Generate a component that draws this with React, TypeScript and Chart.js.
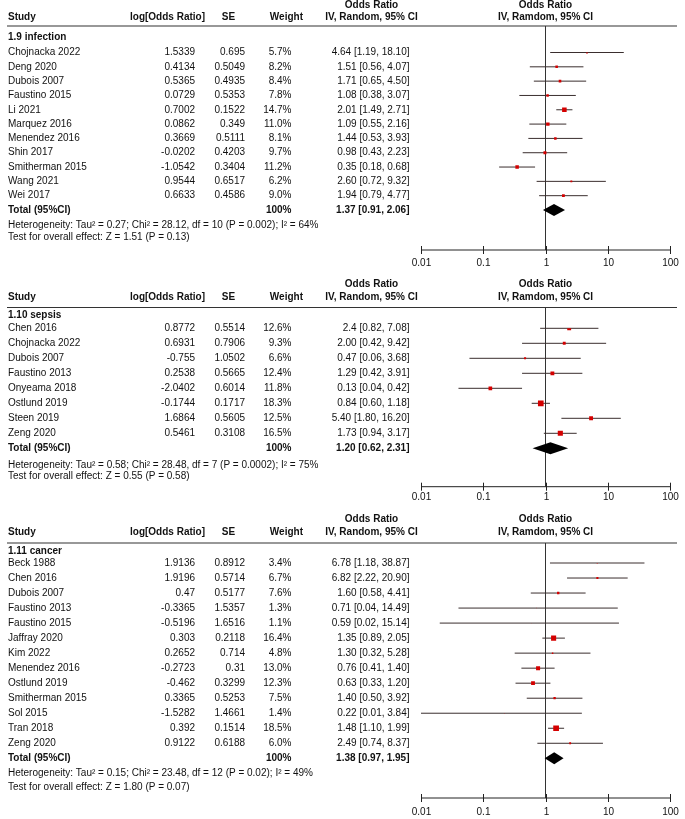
import React, { useEffect, useRef } from 'react';
import { Chart, registerables } from 'chart.js';

Chart.register(...registerables);

// ---------- DATA ----------
// 1.9 infection
const infStudies = ['Chojnacka 2022', 'Deng 2020', 'Dubois 2007', 'Faustino 2015', 'Li 2021', 'Marquez 2016', 'Menendez 2016', 'Shin 2017', 'Smitherman 2015', 'Wang 2021', 'Wei 2017'];
const infLogOR = ['1.5339', '0.4134', '0.5365', '0.0729', '0.7002', '0.0862', '0.3669', '-0.0202', '-1.0542', '0.9544', '0.6633'];
const infSE = ['0.695', '0.5049', '0.4935', '0.5353', '0.1522', '0.349', '0.5111', '0.4203', '0.3404', '0.6517', '0.4586'];
const infWeight = [5.7, 8.2, 8.4, 7.8, 14.7, 11.0, 8.1, 9.7, 11.2, 6.2, 9.0];
const infOR = ['4.64', '1.51', '1.71', '1.08', '2.01', '1.09', '1.44', '0.98', '0.35', '2.60', '1.94'];
const infLo = ['1.19', '0.56', '0.65', '0.38', '1.49', '0.55', '0.53', '0.43', '0.18', '0.72', '0.79'];
const infHi = ['18.10', '4.07', '4.50', '3.07', '2.71', '2.16', '3.93', '2.23', '0.68', '9.32', '4.77'];
const infTotal = ['1.37', '0.91', '2.06'];
const infHet = 'Heterogeneity: Tau² = 0.27; Chi² = 28.12, df = 10 (P = 0.002); I² = 64%';
const infTest = 'Test for overall effect: Z = 1.51 (P = 0.13)';

// 1.10 sepsis
const sepStudies = ['Chen 2016', 'Chojnacka 2022', 'Dubois 2007', 'Faustino 2013', 'Onyeama 2018', 'Ostlund 2019', 'Steen 2019', 'Zeng 2020'];
const sepLogOR = ['0.8772', '0.6931', '-0.755', '0.2538', '-2.0402', '-0.1744', '1.6864', '0.5461'];
const sepSE = ['0.5514', '0.7906', '1.0502', '0.5665', '0.6014', '0.1717', '0.5605', '0.3108'];
const sepWeight = [12.6, 9.3, 6.6, 12.4, 11.8, 18.3, 12.5, 16.5];
const sepOR = ['2.4', '2.00', '0.47', '1.29', '0.13', '0.84', '5.40', '1.73'];
const sepLo = ['0.82', '0.42', '0.06', '0.42', '0.04', '0.60', '1.80', '0.94'];
const sepHi = ['7.08', '9.42', '3.68', '3.91', '0.42', '1.18', '16.20', '3.17'];
const sepTotal = ['1.20', '0.62', '2.31'];
const sepHet = 'Heterogeneity: Tau² = 0.58; Chi² = 28.48, df = 7 (P = 0.0002); I² = 75%';
const sepTest = 'Test for overall effect: Z = 0.55 (P = 0.58)';

// 1.11 cancer
const canStudies = ['Beck 1988', 'Chen 2016', 'Dubois 2007', 'Faustino 2013', 'Faustino 2015', 'Jaffray 2020', 'Kim 2022', 'Menendez 2016', 'Ostlund 2019', 'Smitherman 2015', 'Sol 2015', 'Tran 2018', 'Zeng 2020'];
const canLogOR = ['1.9136', '1.9196', '0.47', '-0.3365', '-0.5196', '0.303', '0.2652', '-0.2723', '-0.462', '0.3365', '-1.5282', '0.392', '0.9122'];
const canSE = ['0.8912', '0.5714', '0.5177', '1.5357', '1.6516', '0.2118', '0.714', '0.31', '0.3299', '0.5253', '1.4661', '0.1514', '0.6188'];
const canWeight = [3.4, 6.7, 7.6, 1.3, 1.1, 16.4, 4.8, 13.0, 12.3, 7.5, 1.4, 18.5, 6.0];
const canOR = ['6.78', '6.82', '1.60', '0.71', '0.59', '1.35', '1.30', '0.76', '0.63', '1.40', '0.22', '1.48', '2.49'];
const canLo = ['1.18', '2.22', '0.58', '0.04', '0.02', '0.89', '0.32', '0.41', '0.33', '0.50', '0.01', '1.10', '0.74'];
const canHi = ['38.87', '20.90', '4.41', '14.49', '15.14', '2.05', '5.28', '1.40', '1.20', '3.92', '3.84', '1.99', '8.37'];
const canTotal = ['1.38', '0.97', '1.95'];
const canHet = 'Heterogeneity: Tau² = 0.15; Chi² = 23.48, df = 12 (P = 0.02); I² = 49%';
const canTest = 'Test for overall effect: Z = 1.80 (P = 0.07)';

const axisTicks = [0.01, 0.1, 1, 10, 100];
const axisTickLabels = ['0.01', '0.1', '1', '10', '100'];

// ---------- LAYOUT ----------
const FONT = '"Liberation Sans", Arial, Helvetica, sans-serif';
const W = 685;
const PLOT_L = 421;
const PLOT_R = 670;

type Geo = { height: number; hdr1: number; hdr2: number; rule: number; label: number; first: number; total: number; het: number; test: number; axis: number; axisLbl: number };

type PanelDef = {
  title: string; studies: string[]; logOR: string[]; se: string[]; weight: number[];
  or: string[]; lo: string[]; hi: string[]; total: string[]; het: string; test: string; geo: Geo;
};

const panels: PanelDef[] = [
  { title: '1.9 infection', studies: infStudies, logOR: infLogOR, se: infSE, weight: infWeight, or: infOR, lo: infLo, hi: infHi, total: infTotal, het: infHet, test: infTest,
    geo: { height: 272, hdr1: 5, hdr2: 17, rule: 26, label: 37, first: 52.5, total: 210, het: 225, test: 237.3, axis: 250, axisLbl: 263 } },
  { title: '1.10 sepsis', studies: sepStudies, logOR: sepLogOR, se: sepSE, weight: sepWeight, or: sepOR, lo: sepLo, hi: sepHi, total: sepTotal, het: sepHet, test: sepTest,
    geo: { height: 234, hdr1: 12.7, hdr2: 25, rule: 35.5, label: 43, first: 56.3, total: 176.3, het: 193, test: 204.7, axis: 214.7, axisLbl: 225 } },
  { title: '1.11 cancer', studies: canStudies, logOR: canLogOR, se: canSE, weight: canWeight, or: canOR, lo: canLo, hi: canHi, total: canTotal, het: canHet, test: canTest,
    geo: { height: 313, hdr1: 13, hdr2: 26, rule: 37, label: 45, first: 57, total: 252.3, het: 267, test: 281, axis: 292, axisLbl: 306 } },
];

function makePlugin(p: PanelDef) {
  const n = p.studies.length;
  const g = p.geo;
  return {
    id: 'forest',
    beforeDatasetsDraw(chart: any) {
      const ctx = chart.ctx;
      const xs = chart.scales.x;
      const ys = chart.scales.y;
      ctx.save();
      // header rule
      ctx.strokeStyle = '#333';
      ctx.lineWidth = 1.2;
      ctx.beginPath();
      ctx.moveTo(7, g.rule);
      ctx.lineTo(677, g.rule);
      ctx.stroke();
      // line of no effect
      const x1 = xs.getPixelForValue(1);
      ctx.strokeStyle = '#333';
      ctx.lineWidth = 1;
      ctx.beginPath();
      ctx.moveTo(x1, g.rule);
      ctx.lineTo(x1, g.axis);
      ctx.stroke();
      // CI lines
      ctx.strokeStyle = '#3a2e2e';
      ctx.lineWidth = 1;
      for (let i = 0; i < n; i++) {
        const y = ys.getPixelForValue(i + 1);
        ctx.beginPath();
        ctx.moveTo(xs.getPixelForValue(parseFloat(p.lo[i])), y);
        ctx.lineTo(xs.getPixelForValue(parseFloat(p.hi[i])), y);
        ctx.stroke();
      }
      // diamond
      const yt = ys.getPixelForValue(n + 1);
      const xl = xs.getPixelForValue(parseFloat(p.total[1]));
      const xm = xs.getPixelForValue(parseFloat(p.total[0]));
      const xr = xs.getPixelForValue(parseFloat(p.total[2]));
      ctx.fillStyle = '#000';
      ctx.beginPath();
      ctx.moveTo(xl, yt);
      ctx.lineTo(xm, yt - 6);
      ctx.lineTo(xr, yt);
      ctx.lineTo(xm, yt + 6);
      ctx.closePath();
      ctx.fill();
      // axis
      ctx.strokeStyle = '#222';
      ctx.lineWidth = 1;
      ctx.beginPath();
      ctx.moveTo(xs.getPixelForValue(axisTicks[0]), g.axis);
      ctx.lineTo(xs.getPixelForValue(axisTicks[axisTicks.length - 1]), g.axis);
      ctx.stroke();
      ctx.fillStyle = '#111';
      ctx.font = `10px ${FONT}`;
      ctx.textAlign = 'center';
      ctx.textBaseline = 'middle';
      axisTicks.forEach((t, k) => {
        const px = Math.round(xs.getPixelForValue(t)) + 0.5;
        ctx.beginPath();
        ctx.moveTo(px, g.axis - 4);
        ctx.lineTo(px, g.axis + 4);
        ctx.stroke();
        ctx.fillText(axisTickLabels[k], px, g.axisLbl);
      });
      ctx.restore();
    },
    afterDraw(chart: any) {
      const ctx = chart.ctx;
      const ys = chart.scales.y;
      ctx.save();
      ctx.fillStyle = '#111';
      ctx.textBaseline = 'middle';
      const bold = `bold 10px ${FONT}`;
      const reg = `10px ${FONT}`;
      const txt = (s: string, x: number, y: number, align: CanvasTextAlign, font: string) => {
        ctx.font = font;
        ctx.textAlign = align;
        ctx.fillText(s, x, y);
      };
      // headers
      txt('Study', 8, g.hdr2, 'left', bold);
      txt('log[Odds Ratio]', 205, g.hdr2, 'right', bold);
      txt('SE', 228.5, g.hdr2, 'center', bold);
      txt('Weight', 303, g.hdr2, 'right', bold);
      txt('Odds Ratio', 371.5, g.hdr1, 'center', bold);
      txt('IV, Random, 95% CI', 371.5, g.hdr2, 'center', bold);
      txt('Odds Ratio', 545.5, g.hdr1, 'center', bold);
      txt('IV, Ramdom, 95% CI', 545.5, g.hdr2, 'center', bold);
      // subgroup
      txt(p.title, 8, g.label, 'left', bold);
      for (let i = 0; i < n; i++) {
        const y = ys.getPixelForValue(i + 1);
        txt(p.studies[i], 8, y, 'left', reg);
        txt(p.logOR[i], 195, y, 'right', reg);
        txt(p.se[i], 245, y, 'right', reg);
        txt(p.weight[i].toFixed(1) + '%', 291.5, y, 'right', reg);
        txt(`${p.or[i]} [${p.lo[i]}, ${p.hi[i]}]`, 409.5, y, 'right', reg);
      }
      const yt = ys.getPixelForValue(n + 1);
      txt('Total (95%CI)', 8, yt, 'left', bold);
      txt('100%', 291.5, yt, 'right', bold);
      txt(`${p.total[0]} [${p.total[1]}, ${p.total[2]}]`, 409.5, yt, 'right', bold);
      txt(p.het, 8, g.het, 'left', reg);
      txt(p.test, 8, g.test, 'left', reg);
      ctx.restore();
    },
  };
}

function Panel({ p }: { p: PanelDef }) {
  const ref = useRef<HTMLCanvasElement | null>(null);
  useEffect(() => {
    if (!ref.current) return;
    const n = p.studies.length;
    const g = p.geo;
    const chart = new Chart(ref.current, {
      type: 'scatter',
      data: {
        datasets: [
          {
            data: p.or.map((v, i) => ({ x: parseFloat(v), y: i + 1 })),
            pointStyle: 'rect',
            pointRadius: p.weight.map((w) => (w * 0.31) / 1.414),
            backgroundColor: '#d40000',
            borderWidth: 0,
          },
        ],
      },
      options: {
        responsive: false,
        animation: false,
        events: [],
        layout: { padding: { left: PLOT_L, right: W - PLOT_R, top: g.first, bottom: g.height - g.total } },
        plugins: { legend: { display: false }, tooltip: { enabled: false } },
        scales: {
          x: { type: 'logarithmic', min: 0.01, max: 100, display: false },
          y: { type: 'linear', min: 1, max: n + 1, reverse: true, display: false },
        },
      },
      plugins: [makePlugin(p)],
    } as any);
    return () => chart.destroy();
  }, [p]);
  return <canvas ref={ref} width={W} height={p.geo.height} style={{ display: 'block', width: W, height: p.geo.height }} />;
}

export default function App() {
  return (
    <div style={{ position: 'absolute', left: 0, top: 0, width: W, height: 819, background: '#fff' }}>
      {panels.map((p, i) => (
        <Panel key={i} p={p} />
      ))}
    </div>
  );
}
